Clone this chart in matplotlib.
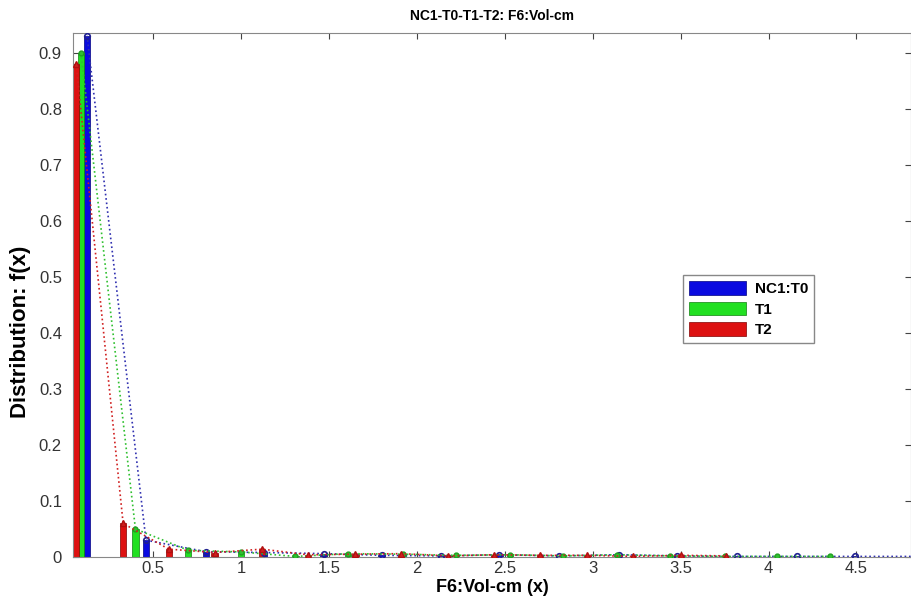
import matplotlib.pyplot as plt

plt.rcParams['font.family'] = ['Liberation Sans', 'DejaVu Sans']

# bin centres and heights
x_t0 = [0.125, 0.46, 0.80, 1.13, 1.47, 1.80, 2.14, 2.47, 2.81, 3.15, 3.48, 3.82, 4.16, 4.49, 4.83]
y_t0 = [0.93, 0.030, 0.0095, 0.008, 0.006, 0.003, 0.002, 0.004, 0.002, 0.004, 0.002, 0.001, 0.001, 0.001, 0.001]

x_t1 = [0.09, 0.40, 0.70, 1.00, 1.31, 1.61, 1.92, 2.22, 2.53, 2.83, 3.14, 3.44, 3.75, 4.05, 4.35]
y_t1 = [0.90, 0.050, 0.012, 0.009, 0.001, 0.006, 0.005, 0.003, 0.004, 0.002, 0.004, 0.002, 0.001, 0.001, 0.001]

x_t2 = [0.063, 0.33, 0.59, 0.85, 1.12, 1.38, 1.65, 1.91, 2.18, 2.44, 2.70, 2.97, 3.23, 3.50, 3.76]
y_t2 = [0.88, 0.060, 0.014, 0.008, 0.014, 0.004, 0.005, 0.006, 0.002, 0.004, 0.003, 0.003, 0.001, 0.003, 0.002]

labels = ['NC1:T0', 'T1', 'T2']
xticks = [0.5, 1, 1.5, 2, 2.5, 3, 3.5, 4, 4.5]
yticks = [0, 0.1, 0.2, 0.3, 0.4, 0.5, 0.6, 0.7, 0.8, 0.9]

fig = plt.figure(figsize=(9.11, 6.04), dpi=100)
ax = fig.add_axes([73/911, 47/604, 838/911, 524/604])

w = 0.037
ax.bar(x_t0, y_t0, width=w, color='#0a0ae0', edgecolor='#000080', linewidth=0.5, label=labels[0], zorder=2)
ax.bar(x_t1, y_t1, width=w, color='#22e022', edgecolor='#108010', linewidth=0.5, label=labels[1], zorder=2)
ax.bar(x_t2, y_t2, width=w, color='#dd1111', edgecolor='#800000', linewidth=0.5, label=labels[2], zorder=2)

ax.plot(x_t0, y_t0, ':', color='#3030b0', lw=1.2, marker='o', ms=4, mfc='none', mec='#202090', mew=1.2, zorder=3)
ax.plot(x_t1, y_t1, ':', color='#30c030', lw=1.2, marker='o', ms=3.5, mfc='#30c030', mec='#20a020', zorder=3)
ax.plot(x_t2, y_t2, ':', color='#d02020', lw=1.2, marker='^', ms=4, mfc='#d02020', mec='#b01010', zorder=3)

ax.set_xlim(0.045, 4.81)
ax.set_ylim(0, 0.935)
ax.set_xticks(xticks)
ax.set_xticklabels([str(t) for t in xticks])
ax.set_yticks(yticks)
ax.set_yticklabels([str(t) for t in yticks])
ax.tick_params(direction='in', top=True, right=True, length=4, labelsize=12, colors='#444444', labelcolor='#333333')
ax.tick_params(axis='y', pad=8)
ax.tick_params(axis='x', pad=3)
for s in ax.spines.values():
    s.set_color('#888888')

ax.set_title('NC1-T0-T1-T2: F6:Vol-cm', fontsize=10, fontweight='bold', pad=9)
ax.set_xlabel('F6:Vol-cm (x)', fontsize=13, fontweight='bold', labelpad=2)
ax.set_ylabel('Distribution: f(x)', fontsize=16, fontweight='bold')
ax.yaxis.set_label_coords(-0.050, 0.43)

leg = ax.legend(loc='upper left', bbox_to_anchor=(0.728, 0.538), fontsize=11, handlelength=3.7,
                handleheight=1.0, handletextpad=0.6, fancybox=False, edgecolor='#888888', framealpha=1,
                borderpad=0.4, labelspacing=0.35, borderaxespad=0)
for t in leg.get_texts():
    t.set_fontweight('bold')

fig.savefig('out.png', dpi=100)
